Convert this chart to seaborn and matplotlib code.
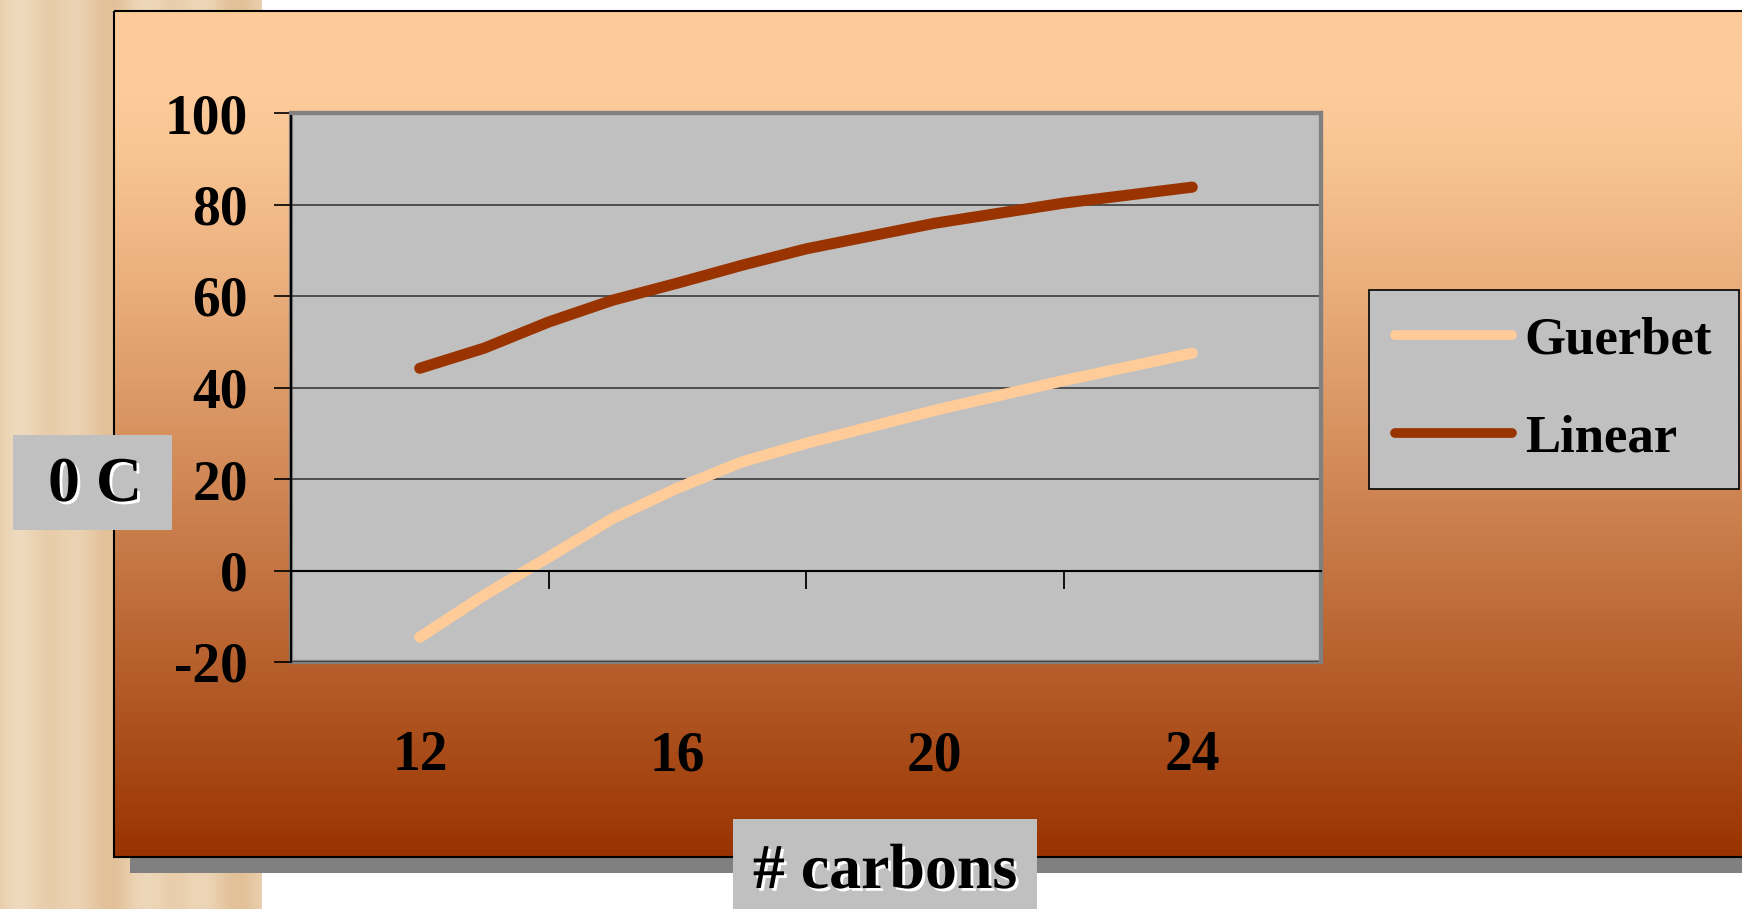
import matplotlib
matplotlib.use('Agg')
import matplotlib.pyplot as plt
import matplotlib.patheffects as pe
from matplotlib.patches import Rectangle
from matplotlib.lines import Line2D
import seaborn as sns
import pandas as pd
import numpy as np

# values (melting point, deg C vs number of carbons)
guerbet_carbons = [12, 13, 14, 15, 16, 17, 18, 20, 22, 24]
guerbet_temp = [-14.6, -5.4, 2.9, 11.4, 18.0, 23.7, 27.8, 35.0, 41.5, 47.5]
linear_carbons = [12, 13, 14, 15, 16, 17, 18, 20, 22, 24]
linear_temp = [44.2, 48.6, 54.3, 59.1, 62.8, 66.7, 70.3, 75.9, 80.3, 83.8]
series_names = ['Guerbet', 'Linear']
series_colors = ['#FFCC99', '#993300']
x_labels = [12, 16, 20, 24]
y_ticks = [-20, 0, 20, 40, 60, 80, 100]

df = pd.concat([
    pd.DataFrame({'carbons': guerbet_carbons, 'temp': guerbet_temp, 'series': 'Guerbet'}),
    pd.DataFrame({'carbons': linear_carbons, 'temp': linear_temp, 'series': 'Linear'}),
])

plt.rcParams['font.family'] = ['Liberation Serif', 'DejaVu Serif']
plt.rcParams['font.weight'] = 'bold'

W, H = 1742, 909
fig = plt.figure(figsize=(W / 100, H / 100), dpi=100)
fig.patch.set_facecolor('white')

# background layer in pixel coords
bg = fig.add_axes([0, 0, 1, 1])
bg.set_xlim(0, W)
bg.set_ylim(H, 0)
bg.axis('off')

# beige marble-ish strip on the left
light = np.array([240, 220, 192]) / 255
dark = np.array([226, 192, 152]) / 255
u = np.linspace(0, 1, 261)
band = 0.5 + 0.5 * np.sin(u * 19.0) * np.cos(u * 7.0)
strip = (dark[None, :] * (1 - band[:, None]) + light[None, :] * band[:, None])[None, :, :]
bg.imshow(strip, extent=(0, 261, H, 0), aspect='auto', zorder=0)

bg.add_patch(Rectangle((130, 26), W, 847, facecolor='#808080', edgecolor='none', zorder=1))
top = np.array([252, 203, 153]) / 255
bot = np.array([153, 51, 0]) / 255
t = np.linspace(0, 1, 256)
t = np.clip((t - 0.1) / 0.9, 0, 1) ** 1.2
t = t[:, None]
grad = (top[None, :] * (1 - t) + bot[None, :] * t)[:, None, :]
bg.imshow(grad, extent=(114, W + 5, 857, 11), aspect='auto', zorder=2)
bg.add_patch(Rectangle((114, 11), W, 846, facecolor='none', edgecolor='black', lw=1.5, zorder=3))

shadow = [pe.withSimplePatchShadow(offset=(2, -2), shadow_rgbFace='white', alpha=1.0)]
bg.add_patch(Rectangle((13, 435), 159, 95, facecolor='#C0C0C0', edgecolor='none', zorder=4))
bg.text(95, 486, '0 C', fontsize=46, fontweight='bold', ha='center', va='center',
        zorder=5, path_effects=shadow)
bg.add_patch(Rectangle((733, 819), 304, 95, facecolor='#C0C0C0', edgecolor='none', zorder=4))
bg.text(885, 873, '# carbons', fontsize=46, fontweight='bold', ha='center', va='center',
        zorder=5, path_effects=shadow)

# plot area
ax = fig.add_axes([291 / W, 1 - 662 / H, 1030 / W, 549 / H])
ax.set_facecolor('#C0C0C0')
sns.lineplot(data=df, x='carbons', y='temp', hue='series', hue_order=series_names,
             palette=series_colors, linewidth=8, solid_capstyle='round', legend=False, ax=ax)
ax.set_xlim(10, 26)
ax.set_ylim(-20, 100)
ax.set_xlabel('')
ax.set_ylabel('')
ax.set_axisbelow(True)

ax.set_yticks(y_ticks)
ax.set_yticklabels([str(v) for v in y_ticks])
ax.yaxis.grid(True, color='#3a3a3a', lw=1.2)
ax.tick_params(axis='y', direction='out', length=12, width=1.2, color='black',
               labelsize=40, pad=19)

ax.spines['bottom'].set_position(('data', 0))
ax.spines['bottom'].set_color('black')
ax.spines['bottom'].set_linewidth(1.5)
ax.set_xticks(x_labels)
ax.set_xticklabels([str(v) for v in x_labels])
ax.set_xticks([14, 18, 22, 26], minor=True)
ax.tick_params(axis='x', which='major', length=0, labelsize=40, pad=115)
ax.tick_params(axis='x', which='minor', direction='out', length=13, width=1.3, color='black')

ax.spines['left'].set_color('black')
ax.spines['left'].set_linewidth(1.5)
for s in ['top', 'right']:
    ax.spines[s].set_color('#808080')
    ax.spines[s].set_linewidth(3)
ax.add_patch(Rectangle((0, 0), 1, 1, transform=ax.transAxes, fill=False,
                       edgecolor='#808080', lw=3, clip_on=False, zorder=0.5))
for lab in ax.get_xticklabels() + ax.get_yticklabels():
    lab.set_fontweight('bold')

handles = [Line2D([], [], color=c, lw=7, solid_capstyle='round') for c in series_colors]
leg = fig.legend(handles, series_names, loc='upper left',
                 bbox_to_anchor=(1369 / W, 1 - 290 / H), bbox_transform=fig.transFigure,
                 fontsize=38, frameon=True, fancybox=False, facecolor='#C0C0C0',
                 edgecolor='black', framealpha=1, handlelength=2.2, handletextpad=0.25,
                 labelspacing=0.95, borderpad=0.5, borderaxespad=0)
leg.get_frame().set_linewidth(1.2)
for txt in leg.get_texts():
    txt.set_fontweight('bold')

fig.savefig('out.png', dpi=100)
